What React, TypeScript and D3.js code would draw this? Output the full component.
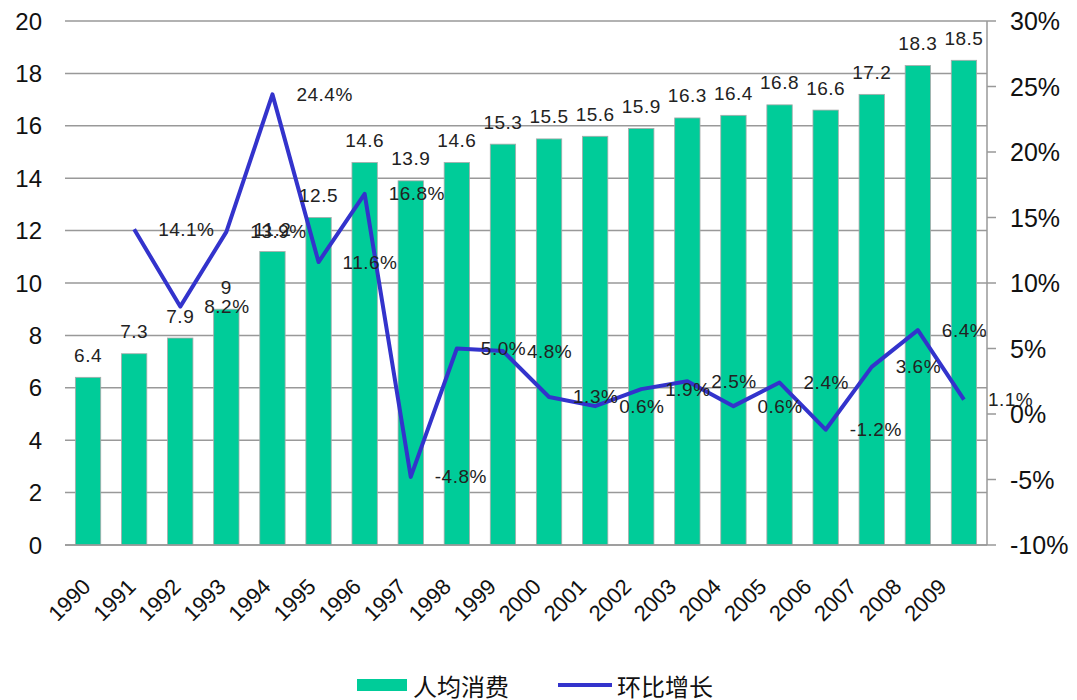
import React from 'react';
import * as d3 from 'd3';

const years = ['1990','1991','1992','1993','1994','1995','1996','1997','1998','1999','2000','2001','2002','2003','2004','2005','2006','2007','2008','2009'];
const consumption = [6.4,7.3,7.9,9,11.2,12.5,14.6,13.9,14.6,15.3,15.5,15.6,15.9,16.3,16.4,16.8,16.6,17.2,18.3,18.5];
const growth: (number | null)[] = [null,14.1,8.2,13.9,24.4,11.6,16.8,-4.8,5.0,4.8,1.3,0.6,1.9,2.5,0.6,2.4,-1.2,3.6,6.4,1.1];
const leftTicks = [0,2,4,6,8,10,12,14,16,18,20];
const rightTicks = [-10,-5,0,5,10,15,20,25,30];
const seriesNames = ['人均消费','环比增长'];

const W = 1077, H = 700;
const M = { left: 65, right: 987, top: 21, bottom: 545 };
const GREEN = '#00CC99';
const BLUE = '#3333CC';
const FONT = '"Liberation Sans", Arial, sans-serif';
const CJK = '"Noto Sans CJK SC", sans-serif';

export default function App() {
  const x = d3.scaleBand<string>().domain(years).range([M.left, M.right]).paddingInner(0.45).paddingOuter(0.225);
  const yL = d3.scaleLinear().domain([0, 20]).range([M.bottom, M.top]);
  const yR = d3.scaleLinear().domain([-10, 30]).range([M.bottom, M.top]);
  const xLab = d3.scalePoint<string>().domain(years).range([92, 948]);
  const cx = (d: string) => (x(d) as number) + x.bandwidth() / 2;

  const pts = years.map((d, i) => ({ d, v: growth[i] })).filter(p => p.v !== null) as { d: string; v: number }[];
  const line = d3.line<{ d: string; v: number }>().x(p => cx(p.d)).y(p => yR(p.v));

  return (
    <svg width={W} height={H} style={{ position: 'absolute', left: 0, top: 0, background: '#fff' }} fontFamily={FONT}>
      {leftTicks.map(t => (
        <g key={'l' + t}>
          <line x1={M.left} x2={M.right} y1={yL(t)} y2={yL(t)} stroke="#999" strokeWidth={1.5} />
          <text x={42} y={yL(t)} textAnchor="end" dominantBaseline="central" fontSize={24} fill="#111">{t}</text>
        </g>
      ))}
      <line x1={M.right} x2={M.right} y1={M.top} y2={M.bottom} stroke="#999" strokeWidth={1.5} />
      {rightTicks.map(t => (
        <g key={'r' + t}>
          <line x1={M.right} x2={M.right + 9} y1={yR(t)} y2={yR(t)} stroke="#999" strokeWidth={1.5} />
          <text x={1010} y={yR(t)} dominantBaseline="central" fontSize={25} fill="#111">{t + '%'}</text>
        </g>
      ))}
      {years.map((d, i) => (
        <rect key={'b' + d} x={x(d)} y={yL(consumption[i])} width={x.bandwidth()} height={M.bottom - yL(consumption[i])}
          fill={GREEN} stroke="#aaa" strokeWidth={0.8} />
      ))}
      <line x1={M.left} x2={M.right} y1={M.bottom} y2={M.bottom} stroke="#999" strokeWidth={1.5} />
      <path d={line(pts) || ''} fill="none" stroke={BLUE} strokeWidth={4} strokeLinejoin="round" />
      {years.map((d, i) => (
        <text key={'bl' + d} x={cx(d)} y={yL(consumption[i]) - 22} textAnchor="middle" dominantBaseline="central"
          fontSize={19} letterSpacing={0.5} fill="#222">{consumption[i]}</text>
      ))}
      {pts.map(p => (
        <text key={'gl' + p.d} x={cx(p.d) + 24} y={yR(p.v)} dominantBaseline="central"
          fontSize={19} letterSpacing={0.5} fill="#222">{p.v.toFixed(1) + '%'}</text>
      ))}
      {years.map(d => (
        <text key={'xl' + d} transform={`translate(${xLab(d)},588) rotate(-45)`} textAnchor="end" fontSize={22} fill="#111">{d}</text>
      ))}
      <rect x={357} y={679} width={50} height={12} fill={GREEN} />
      <text x={413} y={685} dominantBaseline="central" fontSize={24} fontFamily={CJK} fill="#111">{seriesNames[0]}</text>
      <line x1={558} x2={612} y1={685} y2={685} stroke={BLUE} strokeWidth={4} />
      <text x={617} y={685} dominantBaseline="central" fontSize={24} fontFamily={CJK} fill="#111">{seriesNames[1]}</text>
    </svg>
  );
}
